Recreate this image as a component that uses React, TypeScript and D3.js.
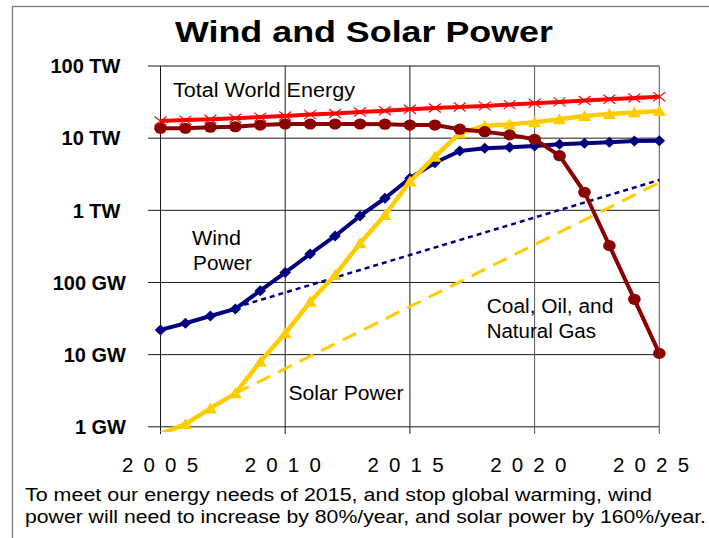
import React from 'react';
import * as d3 from 'd3';

// ---- data (values in GW) ----
const years = [2005, 2006, 2007, 2008, 2009, 2010, 2011, 2012, 2013, 2014, 2015,
  2016, 2017, 2018, 2019, 2020, 2021, 2022, 2023, 2024, 2025];

const totalWorldEnergy = [17300, 17800, 18300, 18900, 19600, 20300, 21200, 22000, 23000, 24000, 25200,
  26200, 27000, 28000, 29200, 30500, 31800, 33200, 34600, 36000, 37500];

const fossilFuels = [13700, 13700, 14200, 14400, 15200, 15700, 15700, 15700, 15700, 15600, 15200,
  15200, 13300, 12300, 11100, 9650, 5720, 1780, 324, 58.5, 10.4];

const windPower = [22, 27.2, 34.3, 43, 77, 137, 248, 441, 836, 1470, 2780,
  4570, 6650, 7250, 7480, 7800, 8230, 8490, 8770, 9140, 9230];

const solarPower = [0.8, 1.09, 1.8, 2.91, 7.98, 19.8, 54, 127, 349, 862, 2500,
  5540, 11700, 14800, 15600, 16600, 18300, 20300, 21700, 22600, 23800];

const windTrendYears = [2008, 2025];
const windTrend = [45, 2630];
const solarTrendYears = [2008, 2025];
const solarTrend = [2.9, 2420];

const yTickValues = [1, 10, 100, 1000, 10000, 100000];
const yTickLabels = ['1 GW', '10 GW', '100 GW', '1 TW ', '10 TW ', '100 TW '];
const xTickYears = [2005, 2010, 2015, 2020, 2025];

const FONT = 'Arial, "Liberation Sans", Helvetica, sans-serif';

export default function App() {
  const x = d3.scaleLinear().domain([2005, 2025]).range([160.5, 659.3]);
  const xLabel = d3.scaleLinear().domain([2005, 2025]).range([160, 651]);
  const y = d3.scaleLog().domain([1, 100000]).range([426.8, 66]);

  const line = d3.line<[number, number]>().x(d => x(d[0])).y(d => y(d[1]));
  const pts = (xs: number[], vs: number[]) => xs.map((yr, i) => [yr, vs[i]] as [number, number]);

  const wind = pts(years, windPower);
  const solar = pts(years, solarPower);
  const fossil = pts(years, fossilFuels);
  const total = pts(years, totalWorldEnergy);

  const visible = (p: [number, number]) => p[1] >= 1;

  const ls = 10.2;

  return (
    <svg width={709} height={538} style={{ position: 'absolute', left: 0, top: 0, background: '#fff' }}
      fontFamily={FONT}>
      <defs>
        <clipPath id="plotClip">
          <rect x={150} y={55} width={520} height={377} />
        </clipPath>
      </defs>
      <rect x={0} y={0} width={709} height={538} fill="#fff" />
      {/* outer frame */}
      <rect x={12.5} y={6.5} width={800} height={700} fill="none" stroke="#7a7a7a" strokeWidth={1.3} />

      {/* title */}
      <text x={175} y={42} fontSize={30} fontWeight="bold" textLength={378} lengthAdjust="spacingAndGlyphs">
        Wind and Solar Power
      </text>

      {/* gridlines */}
      {yTickValues.map(v => (
        <line key={'h' + v} x1={148} x2={x(2025)} y1={y(v)} y2={y(v)} stroke="#1a1a1a" strokeWidth={1} />
      ))}
      {xTickYears.map(yr => (
        <line key={'v' + yr} x1={x(yr)} x2={x(yr)} y1={y(100000)} y2={434} stroke={yr >= 2020 ? '#555' : '#1a1a1a'} strokeWidth={1} />
      ))}

      {/* y labels */}
      {yTickValues.map((v, i) => (
        <text key={'yl' + v} x={126} y={y(v) + 7.3} fontSize={20} fontWeight="bold" textAnchor="end"
          style={{ whiteSpace: 'pre' }}>
          {yTickLabels[i]}
        </text>
      ))}

      {/* x labels */}
      {xTickYears.map(yr => (
        <text key={'xl' + yr} x={xLabel(yr) + ls / 2} y={471.5} fontSize={20.5} textAnchor="middle"
          letterSpacing={ls}>
          {String(yr)}
        </text>
      ))}

      <g clipPath="url(#plotClip)">
        {/* trend lines */}
        <path d={line(pts(windTrendYears, windTrend)) || ''} fill="none" stroke="#000080" strokeWidth={2.5}
          strokeDasharray="5,4" />
        <path d={line(pts(solarTrendYears, solarTrend)) || ''} fill="none" stroke="#FFCC00" strokeWidth={3}
          strokeDasharray="15,9" />

        {/* wind */}
        <path d={line(wind) || ''} fill="none" stroke="#000080" strokeWidth={4} strokeLinejoin="round" />
        {wind.filter(visible).map(p => (
          <path key={'w' + p[0]} transform={`translate(${x(p[0])},${y(p[1])})`} d="M0,-5.5L5.8,0L0,5.5L-5.8,0Z" fill="#000080" />
        ))}

        {/* solar */}
        <path d={line(solar) || ''} fill="none" stroke="#FFCC00" strokeWidth={4.5} strokeLinejoin="round" />
        {solar.filter(visible).map(p => (
          <path key={'s' + p[0]} transform={`translate(${x(p[0])},${y(p[1])})`} d="M0,-6L6.5,5L-6.5,5Z" fill="#FFCC00" />
        ))}

        {/* fossil */}
        <path d={line(fossil) || ''} fill="none" stroke="#8B0000" strokeWidth={4} strokeLinejoin="round" />
        {fossil.filter(visible).map(p => (
          <ellipse key={'f' + p[0]} cx={x(p[0])} cy={y(p[1])} rx={6.3} ry={5.6} fill="#8B0000" />
        ))}

        {/* total */}
        <path d={line(total) || ''} fill="none" stroke="#FF0000" strokeWidth={4} strokeLinejoin="round" />
        {total.filter(visible).map(p => (
          <path key={'t' + p[0]} transform={`translate(${x(p[0])},${y(p[1])})`}
            d="M-6,-4.5L6,4.5M-6,4.5L6,-4.5" stroke="#FF0000" strokeWidth={1.1} fill="none" />
        ))}
      </g>

      {/* annotations */}
      <g fontSize={20} fill="#000">
        <text x={173} y={96.5} textLength={182} lengthAdjust="spacingAndGlyphs">Total World Energy</text>
        <text x={192} y={245} textLength={49} lengthAdjust="spacingAndGlyphs">Wind</text>
        <text x={193} y={270} textLength={59} lengthAdjust="spacingAndGlyphs">Power</text>
        <text x={288.5} y={400} textLength={115} lengthAdjust="spacingAndGlyphs">Solar Power</text>
        <text x={486.7} y={313.3} textLength={126.6} lengthAdjust="spacingAndGlyphs">Coal, Oil, and</text>
        <text x={486.7} y={338.3} textLength={109.3} lengthAdjust="spacingAndGlyphs">Natural Gas</text>
      </g>

      {/* caption */}
      <g fontSize={18.7} fill="#000">
        <text x={25} y={500.7} textLength={627} lengthAdjust="spacingAndGlyphs">
          To meet our energy needs of 2015, and stop global warming, wind
        </text>
        <text x={25} y={522.7} textLength={681} lengthAdjust="spacingAndGlyphs">
          power will need to increase by 80%/year, and solar power by 160%/year.
        </text>
      </g>
    </svg>
  );
}
